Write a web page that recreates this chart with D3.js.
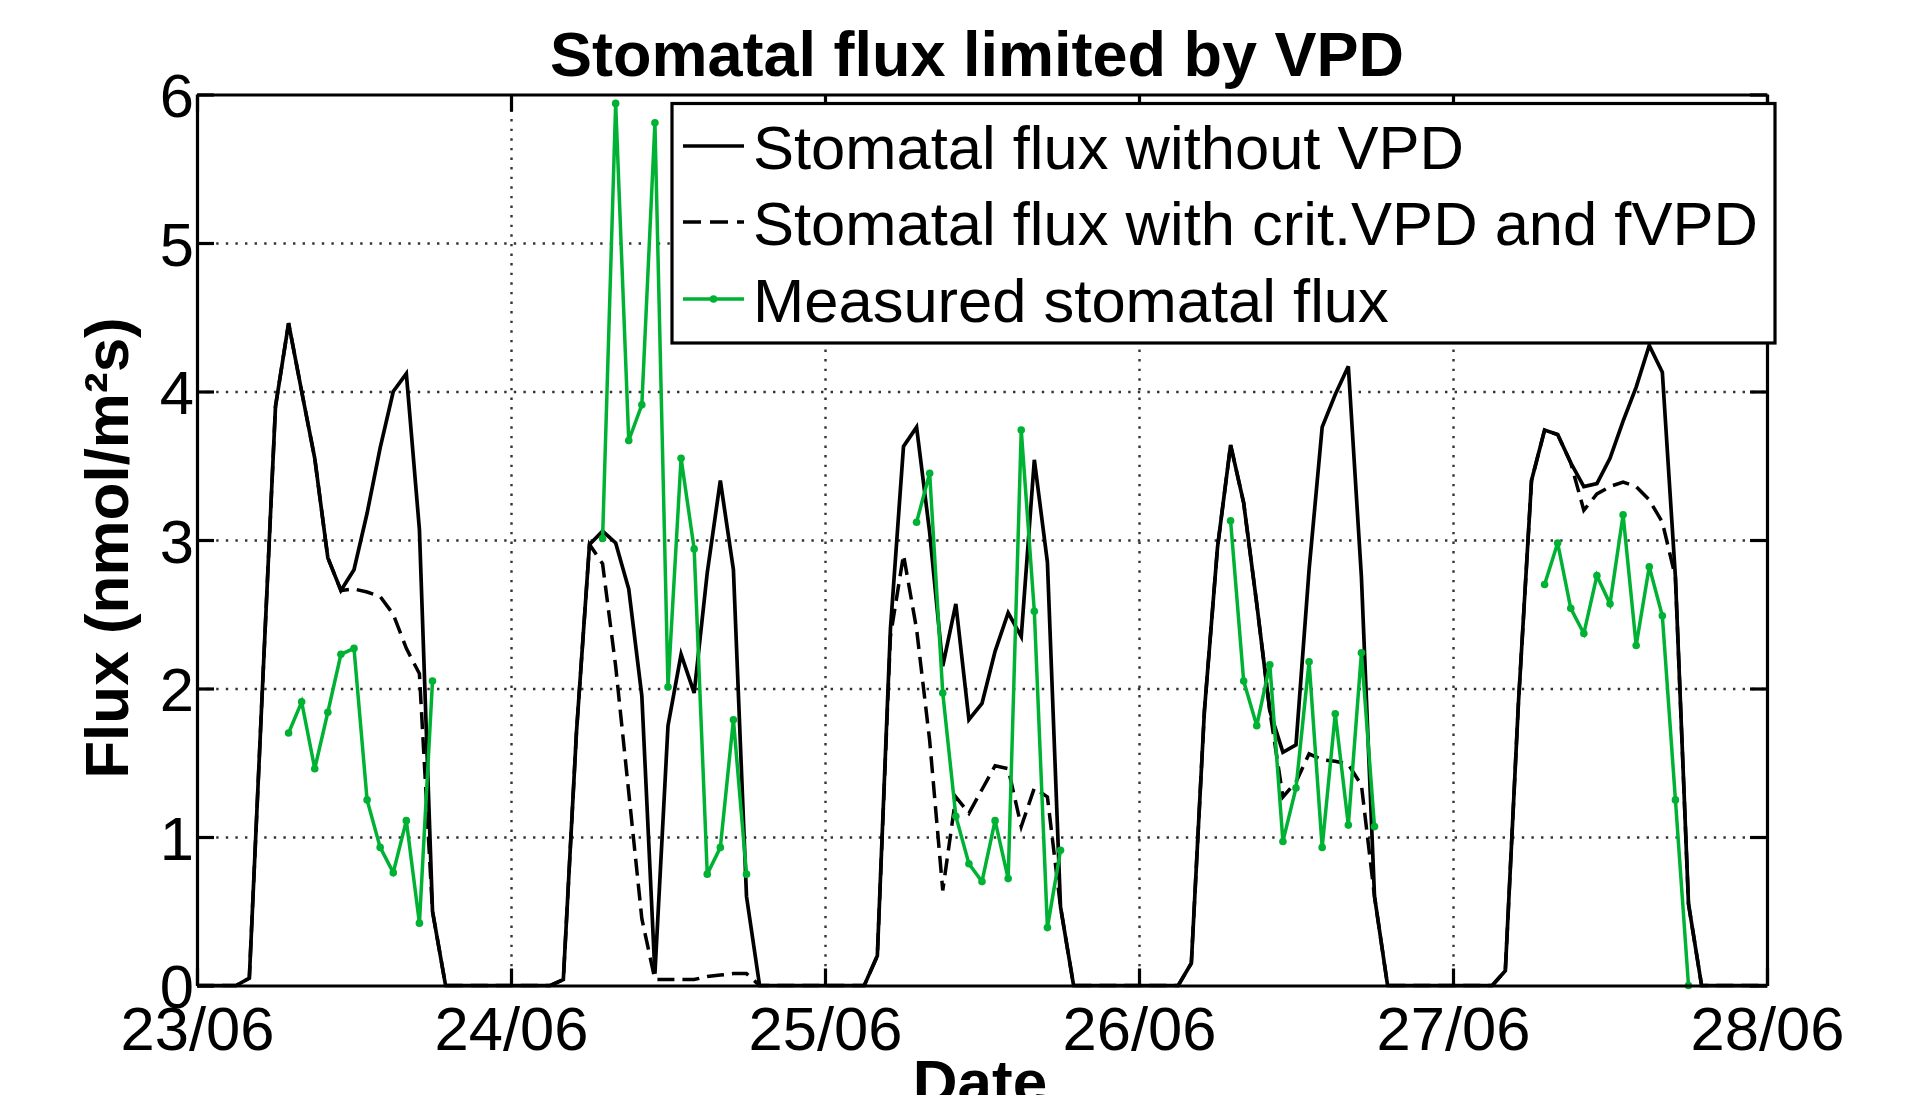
<!DOCTYPE html>
<html><head><meta charset="utf-8">
<script src="https://cdn.jsdelivr.net/npm/d3@7"></script>
<style>body{margin:0;background:#fff;} svg{display:block;font-family:"Liberation Sans",Arial,Helvetica,sans-serif;}</style>
</head><body>
<svg id="chart" width="1925" height="1095"></svg>
<script>
// ---- data ----
const dayOfJune = [23, 24, 25, 26, 27];
const xTickDays = [23, 24, 25, 26, 27, 28];
const yTicks = [0, 1, 2, 3, 4, 5, 6];
const modelHours = [0, 3, 4, 5, 6, 7, 8, 9, 10, 11, 12, 13, 14, 15, 16, 17, 18, 19, 24];
const measuredHours = [7, 8, 9, 10, 11, 12, 13, 14, 15, 16, 17, 18];

const fluxWithoutVPD = [
  [0, 0, 0.05, 2.0, 3.9, 4.46, 4.0, 3.55, 2.88, 2.66, 2.8, 3.18, 3.62, 4.0, 4.12, 3.07, 0.5, 0, 0],
  [0, 0, 0.04, 1.7, 2.97, 3.06, 2.98, 2.67, 1.95, 0.08, 1.75, 2.23, 1.97, 2.78, 3.40, 2.8, 0.6, 0, 0],
  [0, 0, 0.2, 2.4, 3.63, 3.76, 3.05, 2.15, 2.57, 1.79, 1.9, 2.25, 2.51, 2.35, 3.54, 2.85, 0.53, 0, 0],
  [0, 0, 0.15, 1.85, 2.95, 3.64, 3.25, 2.57, 1.85, 1.57, 1.62, 2.8, 3.76, 3.98, 4.17, 2.75, 0.6, 0, 0],
  [0, 0, 0.1, 1.9, 3.4, 3.74, 3.71, 3.52, 3.36, 3.38, 3.55, 3.8, 4.03, 4.31, 4.13, 2.75, 0.55, 0, 0]
];
const fluxWithVPD = [
  [0, 0, 0.05, 2.0, 3.9, 4.46, 4.0, 3.55, 2.88, 2.66, 2.67, 2.65, 2.62, 2.5, 2.27, 2.1, 0.5, 0, 0],
  [0, 0, 0.04, 1.7, 2.97, 2.84, 2.15, 1.3, 0.45, 0.04, 0.04, 0.04, 0.04, 0.06, 0.07, 0.08, 0.08, 0, 0],
  [0, 0, 0.2, 2.35, 2.9, 2.4, 1.65, 0.64, 1.27, 1.16, 1.32, 1.48, 1.46, 1.07, 1.33, 1.27, 0.53, 0, 0],
  [0, 0, 0.15, 1.85, 2.95, 3.64, 3.25, 2.57, 1.85, 1.27, 1.37, 1.56, 1.52, 1.51, 1.49, 1.35, 0.6, 0, 0],
  [0, 0, 0.1, 1.9, 3.4, 3.74, 3.71, 3.52, 3.2, 3.31, 3.36, 3.39, 3.36, 3.27, 3.12, 2.75, 0.55, 0, 0]
];
const fluxMeasured = [
  [1.70, 1.91, 1.46, 1.84, 2.23, 2.27, 1.25, 0.93, 0.76, 1.11, 0.42, 2.05],
  [3.01, 5.94, 3.67, 3.91, 5.81, 2.01, 3.55, 2.94, 0.75, 0.93, 1.79, 0.75],
  [3.12, 3.45, 1.97, 1.14, 0.82, 0.70, 1.11, 0.72, 3.74, 2.52, 0.39, 0.91],
  [3.13, 2.05, 1.75, 2.16, 0.97, 1.33, 2.18, 0.93, 1.83, 1.08, 2.24, 1.07],
  [2.70, 2.98, 2.54, 2.37, 2.76, 2.57, 3.17, 2.29, 2.82, 2.49, 1.25, 0]
];
const legendLabels = ["Stomatal flux without VPD", "Stomatal flux with crit.VPD and fVPD", "Measured stomatal flux"];

// ---- layout ----
const L = 197, R = 1767, T = 94.5, B = 985.5;
const GREEN = "rgb(0,178,51)";
const FS = 61.5;
const svg = d3.select("#chart");

const t = (day, h) => new Date(Date.UTC(2013, 5, day, h));
const x = d3.scaleUtc().domain([t(23, 0), t(28, 0)]).range([L, R]);
const y = d3.scaleLinear().domain([0, 6]).range([B, T]);
const xTicks = xTickDays.map(d => t(d, 0));
const fmt = d3.utcFormat("%d/%m");

// grid
const grid = svg.append("g");
grid.append("g").attr("transform", `translate(${L},0)`)
  .call(d3.axisLeft(y).tickValues(yTicks.slice(1, -1)).tickSize(-(R - L)).tickFormat(""))
  .call(g => g.select(".domain").remove());
grid.append("g").attr("transform", `translate(0,${B})`)
  .call(d3.axisBottom(x).tickValues(xTicks.slice(1, -1)).tickSize(-(B - T)).tickFormat(""))
  .call(g => g.select(".domain").remove());
grid.selectAll("line").attr("stroke", "#333").attr("stroke-width", 2.4).attr("stroke-dasharray", "2.4 7.2");

// series
const modelPts = arr => arr.flatMap((row, d) => row.map((v, i) => ({ t: t(dayOfJune[d], modelHours[i]), v })));
const line = d3.line().x(p => x(p.t)).y(p => y(p.v));
svg.append("path").datum(modelPts(fluxWithoutVPD)).attr("d", line)
  .attr("fill", "none").attr("stroke", "#000").attr("stroke-width", 3.7).attr("stroke-linejoin", "miter");
svg.append("path").datum(modelPts(fluxWithVPD)).attr("d", line)
  .attr("fill", "none").attr("stroke", "#000").attr("stroke-width", 3.5).attr("stroke-dasharray", "17 8");

const meas = svg.append("g");
fluxMeasured.forEach((row, d) => {
  const pts = row.map((v, i) => ({ t: t(dayOfJune[d], measuredHours[i]), v }));
  meas.append("path").datum(pts).attr("d", line)
    .attr("fill", "none").attr("stroke", GREEN).attr("stroke-width", 3.5);
  meas.selectAll(null).data(pts).enter().append("circle")
    .attr("cx", p => x(p.t)).attr("cy", p => y(p.v)).attr("r", 3.8).attr("fill", GREEN);
});

// axes
const ax = svg.append("g");
const bottom = ax.append("g").attr("transform", `translate(0,${B})`)
  .call(d3.axisBottom(x).tickValues(xTicks).tickSize(-17).tickSizeOuter(0).tickFormat(fmt));
bottom.selectAll("text").attr("y", 64.5).attr("dy", null);
ax.append("g").attr("transform", `translate(0,${T})`)
  .call(d3.axisTop(x).tickValues(xTicks).tickSize(-17).tickSizeOuter(0).tickFormat(""));
const left = ax.append("g").attr("transform", `translate(${L},0)`)
  .call(d3.axisLeft(y).tickValues(yTicks).tickSize(-17).tickSizeOuter(0).tickFormat(d3.format("d")));
left.selectAll("text").attr("x", -3).attr("dy", "0.36em");
ax.append("g").attr("transform", `translate(${R},0)`)
  .call(d3.axisRight(y).tickValues(yTicks).tickSize(-17).tickSizeOuter(0).tickFormat(""));
ax.selectAll(".domain, .tick line").attr("stroke", "#000").attr("stroke-width", 3.2);
ax.selectAll("text").attr("font-size", FS).attr("fill", "#000").attr("font-family", null);
ax.selectAll("g").attr("font-family", null).attr("font-size", null);

// legend
const lg = svg.append("g");
lg.append("rect").attr("x", 672).attr("y", 103.5).attr("width", 1103).attr("height", 239.5)
  .attr("fill", "#fff").attr("stroke", "#000").attr("stroke-width", 3.2);
const rowY = [146, 222, 299];
const styles = [
  { stroke: "#000", dash: null },
  { stroke: "#000", dash: "18 9" },
  { stroke: GREEN, dash: null }
];
legendLabels.forEach((lab, i) => {
  lg.append("line").attr("x1", 683).attr("x2", 744).attr("y1", rowY[i]).attr("y2", rowY[i])
    .attr("stroke", styles[i].stroke).attr("stroke-width", 3.5).attr("stroke-dasharray", styles[i].dash);
  if (i === 2) lg.append("circle").attr("cx", 713.5).attr("cy", rowY[i]).attr("r", 3.8).attr("fill", GREEN);
  lg.append("text").attr("x", 753).attr("y", rowY[i] + 22.5).attr("font-size", FS).text(lab);
});

// titles
svg.append("text").attr("x", 977).attr("y", 76).attr("text-anchor", "middle")
  .attr("font-size", 63).attr("font-weight", "bold").text("Stomatal flux limited by VPD");
svg.append("text").attr("x", 980).attr("y", 1102.5).attr("text-anchor", "middle")
  .attr("font-size", 62).attr("font-weight", "bold").text("Date");
svg.append("text").attr("transform", "translate(128,548) rotate(-90)").attr("text-anchor", "middle")
  .attr("font-size", 62).attr("font-weight", "bold").text("Flux (nmol/m²s)");
</script>
</body></html>
